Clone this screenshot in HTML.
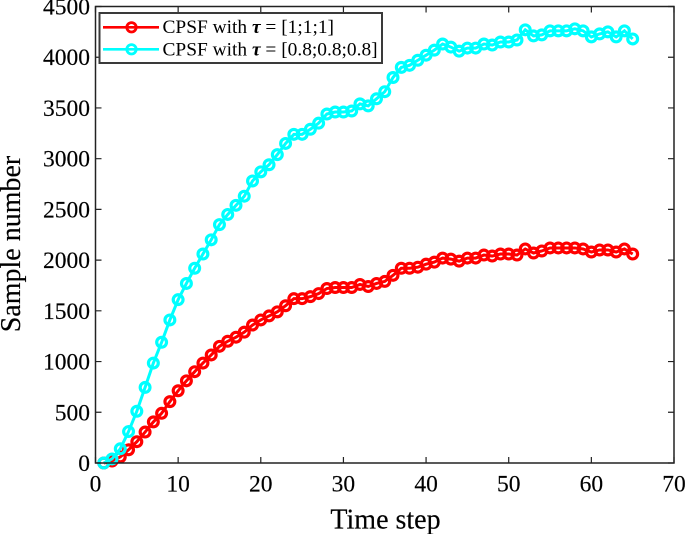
<!DOCTYPE html>
<html>
<head>
<meta charset="utf-8">
<style>
html,body{margin:0;padding:0;background:#fff;}
svg{display:block;font-family:"Liberation Serif","DejaVu Serif",serif;}
</style>
</head>
<body>
<svg id="chart" width="685" height="534" viewBox="0 0 685 534" xmlns="http://www.w3.org/2000/svg">
  <rect width="685" height="534" fill="#fff"/>
  <g id="series"></g>
  <g id="axes"></g>
  <text x="385.5" y="528.5" font-size="28" text-anchor="middle" fill="#000" stroke="#000" stroke-width="0.15">Time step</text>
  <text transform="translate(20 244) rotate(-90)" font-size="28" text-anchor="middle" fill="#000" stroke="#000" stroke-width="0.15">Sample number</text>
  <g>
    <rect x="99.5" y="13" width="282.5" height="50" fill="#fff" stroke="#3a3a3a" stroke-width="2"/>
    <line x1="103" x2="159" y1="27.3" y2="27.3" stroke="#ff0000" stroke-width="2.6"/>
    <circle cx="131.5" cy="27.3" r="4.7" fill="none" stroke="#ff0000" stroke-width="2.8"/>
    <text x="162.5" y="33" font-size="19.4" fill="#000">CPSF with <tspan font-weight="bold" font-style="italic">τ</tspan> = [1;1;1]</text>
    <line x1="103" x2="159" y1="49.3" y2="49.3" stroke="#00ffff" stroke-width="2.6"/>
    <circle cx="131.5" cy="49.3" r="4.7" fill="none" stroke="#00ffff" stroke-width="2.8"/>
    <text x="162.5" y="55.5" font-size="19.4" fill="#000">CPSF with <tspan font-weight="bold" font-style="italic">τ</tspan> = [0.8;0.8;0.8]</text>
  </g>
</svg>
<script>
const xTicks = [0, 10, 20, 30, 40, 50, 60, 70];
const yTicks = [0, 500, 1000, 1500, 2000, 2500, 3000, 3500, 4000, 4500];
const timeSteps = [1,2,3,4,5,6,7,8,9,10,11,12,13,14,15,16,17,18,19,20,21,22,23,24,25,26,27,28,29,30,31,32,33,34,35,36,37,38,39,40,41,42,43,44,45,46,47,48,49,50,51,52,53,54,55,56,57,58,59,60,61,62,63,64,65];
const redValues = [0,20,60,130,210,305,405,490,605,712,810,900,985,1065,1150,1200,1240,1290,1360,1410,1450,1490,1550,1620,1620,1640,1670,1720,1730,1730,1730,1760,1740,1770,1790,1850,1920,1920,1930,1960,1980,2020,2010,1990,2020,2020,2050,2040,2060,2060,2050,2110,2070,2090,2120,2120,2120,2120,2110,2080,2100,2100,2080,2110,2060];
const cyanValues = [0,40,140,310,510,745,985,1190,1410,1610,1770,1920,2060,2200,2350,2450,2540,2630,2780,2870,2940,3040,3150,3240,3240,3290,3350,3440,3460,3460,3470,3540,3520,3590,3660,3800,3900,3920,3970,4020,4070,4130,4100,4060,4090,4090,4130,4120,4150,4150,4170,4270,4210,4220,4260,4260,4260,4280,4260,4200,4230,4250,4200,4260,4180];

const NS = 'http://www.w3.org/2000/svg';
const plotLeft = 95.5, plotRight = 674, plotTop = 6.5, plotBottom = 463;
const xMin = 0, xMax = 70, yMin = 0, yMax = 4500;
function xScale(v) { return plotLeft + (v - xMin) / (xMax - xMin) * (plotRight - plotLeft); }
function yScale(v) { return plotBottom - (v - yMin) / (yMax - yMin) * (plotBottom - plotTop); }
function make(tag, attrs, parent) {
  const el = document.createElementNS(NS, tag);
  for (const k in attrs) el.setAttribute(k, attrs[k]);
  parent.appendChild(el);
  return el;
}
const axes = document.getElementById('axes');
const seriesGroup = document.getElementById('series');

function drawSeries(values, color, key) {
  const pts = values.map(function (v, i) { return xScale(timeSteps[i]).toFixed(2) + ',' + yScale(v).toFixed(2); }).join(' ');
  const line = make('polyline', { points: pts, fill: 'none', stroke: color, 'stroke-width': 3 }, seriesGroup);
  
  
  values.forEach(function (v, i) {
    const c = make('circle', { cx: xScale(timeSteps[i]).toFixed(2), cy: yScale(v).toFixed(2), r: 4.9, fill: 'none', stroke: color, 'stroke-width': 3.2 }, seriesGroup);
    
    
  });
}
drawSeries(redValues, '#ff0000', 'red');
drawSeries(cyanValues, '#00ffff', 'cyan');

const frame = make('path', { d: 'M' + plotLeft + ' ' + plotTop + 'H' + plotRight + 'V' + plotBottom + 'H' + plotLeft + 'Z', fill: 'none', stroke: '#222', 'stroke-width': 1.5 }, axes);



xTicks.forEach(function (t) {
  const x = xScale(t);
  const m1 = make('path', { d: 'M' + x + ' ' + plotBottom + 'v-6M' + x + ' ' + plotTop + 'v6', stroke: '#222', 'stroke-width': 1.2, fill: 'none' }, axes);
  
  
  const lb = make('text', { x: x, y: 491.5, 'font-size': 23.5, 'text-anchor': 'middle', fill: '#000', stroke: '#000', 'stroke-width': 0.15 }, axes);
  
  
  lb.textContent = t;
});
yTicks.forEach(function (t) {
  const y = yScale(t);
  const m2 = make('path', { d: 'M' + plotLeft + ' ' + y + 'h6M' + plotRight + ' ' + y + 'h-6', stroke: '#222', 'stroke-width': 1.2, fill: 'none' }, axes);
  
  
  const lb2 = make('text', { x: 90, y: y + 8, 'font-size': 23.5, 'text-anchor': 'end', fill: '#000', stroke: '#000', 'stroke-width': 0.15 }, axes);
  
  
  lb2.textContent = t;
});
</script>
</body>
</html>
